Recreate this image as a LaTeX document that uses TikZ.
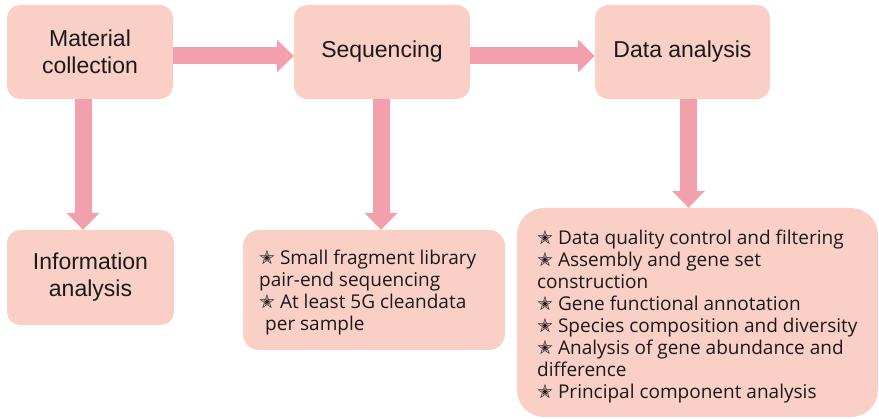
\documentclass[tikz,border=0pt]{standalone}
\usepackage{fontspec}
\setmainfont{Liberation Sans}
\newfontfamily\listfont{Open Sans}
\newfontfamily\symfont{DejaVu Sans}
\usetikzlibrary{arrows.meta}
\definecolor{boxfill}{HTML}{F9CFC6}
\definecolor{arrowpink}{HTML}{F2A0AC}
\definecolor{inkgray}{HTML}{1A1A1A}
% small outlined star used as list bullet
\newcommand\bul{{\symfont\fontsize{19}{19}\selectfont ✭}}

\begin{document}
\begin{tikzpicture}[x=1pt,y=-1pt,
  stage/.style={fill=boxfill, rounded corners=13pt, inner sep=0pt,
    align=center, text=inkgray, font=\fontsize{23}{27}\selectfont},
  panel/.style={fill=boxfill, inner sep=0pt},
  listtext/.style={anchor=north west, inner sep=0pt, align=left, text=inkgray,
    font=\listfont\fontsize{19}{21.9}\selectfont},
  flow/.style={draw=arrowpink, line width=17pt,
    -{Triangle[length=17pt, width=33pt, line width=0pt]}}
]
\useasboundingbox (0,0) rectangle (879,419);

% top row of stages
\node[stage, minimum width=166pt, minimum height=94pt] (mc) at (90,52) {Material\\collection};
\node[stage, minimum width=176pt, minimum height=94pt] (seq) at (382,52) {Sequencing};
\node[stage, minimum width=175pt, minimum height=94pt] (da) at (682.5,52) {Data analysis};

% lower boxes
\node[stage, minimum width=167pt, minimum height=95pt] (info) at (90.5,277.5) {Information\\analysis};
\node[panel, rounded corners=16pt, minimum width=262pt, minimum height=120pt] (seqd) at (374,290) {};
\node[panel, rounded corners=27pt, minimum width=361pt, minimum height=209pt] (dad) at (697.5,312.5) {};

\node[listtext] (seqtxt) at (259,250) {\bul\ Small fragment library\\pair-end sequencing\\\bul\ At least 5G cleandata\\\hspace{6pt}per sample};
\node[listtext] (datxt) at (537,230) {\bul\ Data quality control and filtering\\\bul\ Assembly and gene set\\construction\\\bul\ Gene functional annotation\\\bul\ Species composition and diversity\\\bul\ Analysis of gene abundance and\\difference\\\bul\ Principal component analysis};

% connectors
\draw[flow] ([yshift=-4pt]mc.east) -- ([yshift=-4pt]seq.west);
\draw[flow] ([yshift=-4pt]seq.east) -- ([yshift=-4pt]da.west);
\draw[flow] ([xshift=-7pt]mc.south) -- ([xshift=-7pt]mc.south |- info.north);
\draw[flow] ([xshift=-1pt]seq.south) -- ([xshift=-1pt]seq.south |- seqd.north);
\draw[flow] ([xshift=6pt]da.south) -- ([xshift=6pt]da.south |- dad.north);
\end{tikzpicture}
\end{document}
